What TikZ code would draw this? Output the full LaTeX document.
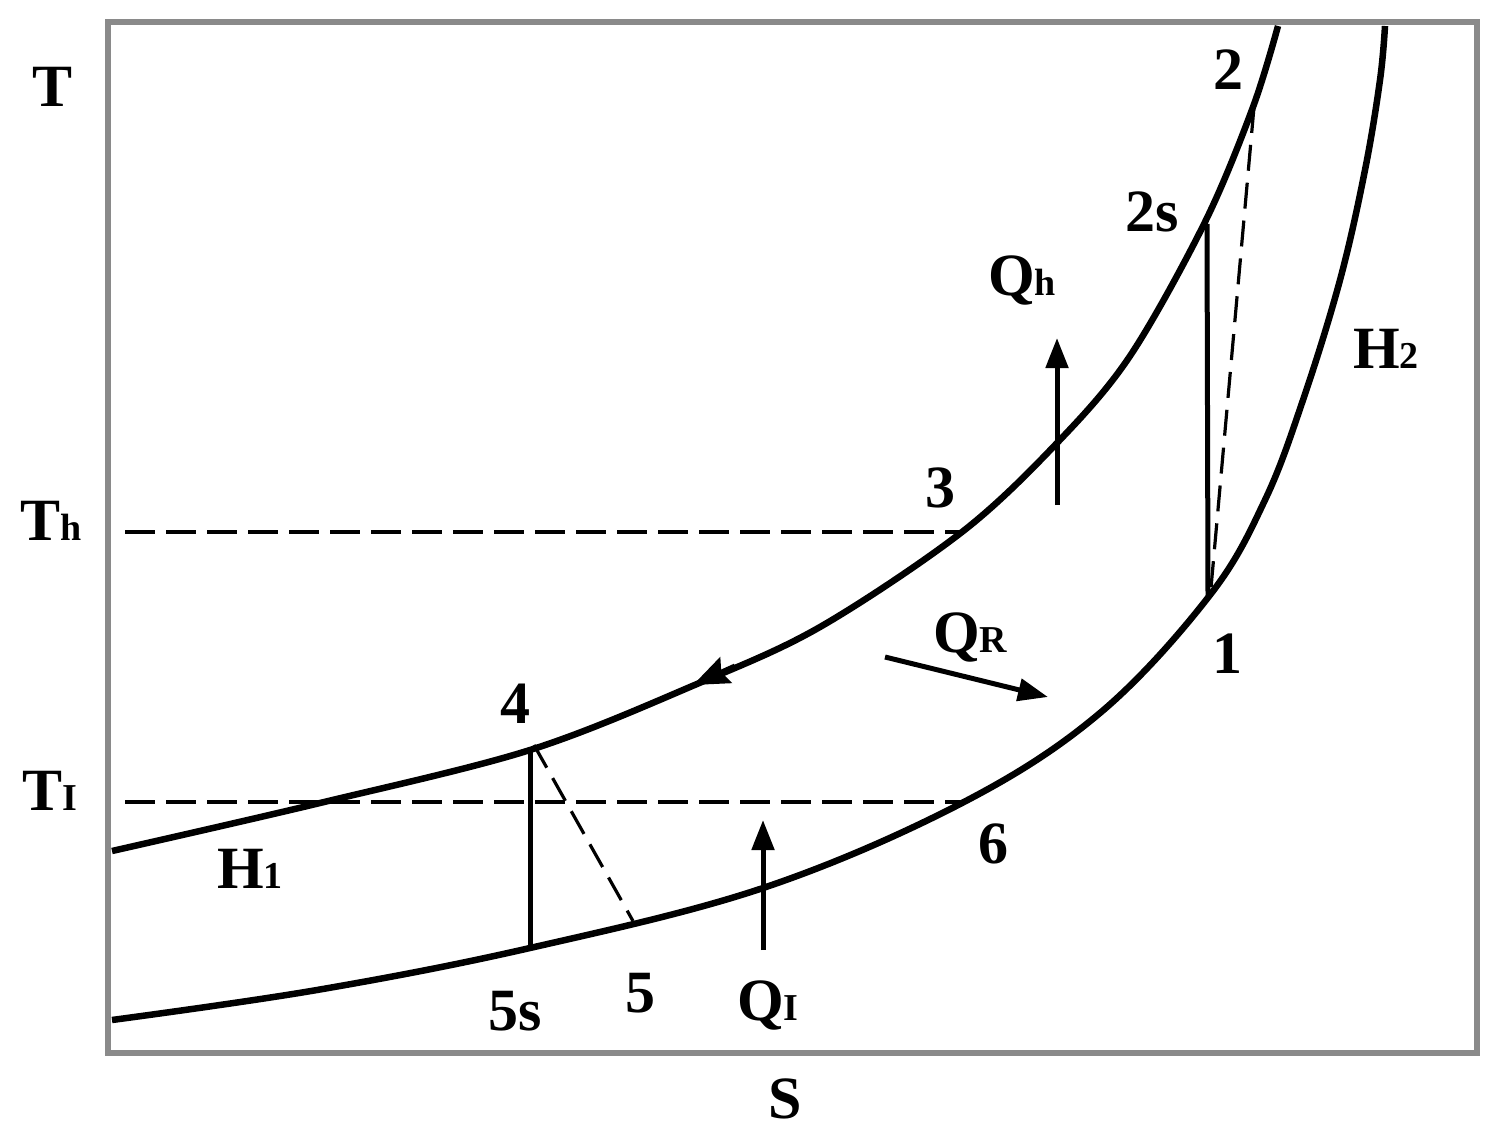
\documentclass[tikz,border=0pt]{standalone}
\usepackage{fontspec}
\setmainfont{Liberation Serif}
\usetikzlibrary{arrows.meta}
\definecolor{framegray}{RGB}{138,138,138}
\newcommand\sbx[1]{{\fontsize{38}{38}\selectfont #1}}
\begin{document}
\begin{tikzpicture}[x=1pt,y=-1pt,
  lbl/.style={font=\fontsize{60}{60}\selectfont\bfseries, inner sep=0pt, anchor=base west},
  curve/.style={line width=6.5pt, line join=round},
  isen/.style={line width=5pt},
  dashh/.style={line width=4pt, dash pattern=on 30pt off 11pt},
  dashd/.style={line width=3.2pt, dash pattern=on 26pt off 12pt},
  qarrow/.style={line width=5pt, -{Triangle[length=30pt,width=22pt]}},
  frm/.style={draw=framegray, line width=6pt}
]
\useasboundingbox (0,0) rectangle (1497,1142);
% frame
\draw[frm] (108,22) rectangle (1477,1053);
% state points
\coordinate (p1) at (1208,596);
\coordinate (p2) at (1254,107);
\coordinate (p2s) at (1207,224);
\coordinate (p3) at (962,532);
\coordinate (p4) at (530,751);
\coordinate (p5s) at (530,948);
\coordinate (p5) at (633,921);
\coordinate (p6) at (962,802);
\coordinate (th0) at (125,532);
\coordinate (tl0) at (125,802);
% isobars
\draw[curve] plot[smooth, tension=0.55] coordinates {(112,851) (320,803) (530,750) (697,684) (820,627) (962,532) (1057,443) (1130,356) (1205,222) (1253,107) (1278,26)};
\draw[curve] plot[smooth, tension=0.6] coordinates {(112,1020) (317,990) (530,948) (763,888) (962,803) (1100,713) (1210,595) (1265,500) (1303,400) (1340,280) (1365,170) (1380,80) (1385,26)};
% process lines
\draw[isen] (p2s) -- (p1);
\draw[isen] (p4) -- (p5s);
\draw[dashd] (p2) -- ([xshift=2pt,yshift=-3pt]p1);
\draw[dashd] ([xshift=4pt,yshift=6pt]p4) -- (p5);
\draw[dashh] (th0) -- (p3);
\draw[dashh] (tl0) -- (p6);
% direction arrow on the upper curve
\coordinate (ca0) at (735,666);
\coordinate (ca1) at (693,685);
\draw[line width=5pt, -{Stealth[length=36pt,width=28pt,inset=5pt]}] (ca0) -- (ca1);
% heat arrows
\coordinate (qh0) at (1057,505); \coordinate (qh1) at (1057,338);
\coordinate (ql0) at (763,950);  \coordinate (ql1) at (763,820);
\coordinate (qr0) at (885,657);  \coordinate (qr1) at (1048,697);
\draw[qarrow] (qh0) -- (qh1);
\draw[qarrow] (ql0) -- (ql1);
\draw[qarrow] (qr0) -- (qr1);
% labels
\node[lbl] (lT)  at (32,107)   {T};
\node[lbl] (lTh) at (20,540)   {T\sbx{h}};
\node[lbl] (lTl) at (22,810)   {T\sbx{I}};
\node[lbl] (lS)  at (768,1118) {S};
\node[lbl] (lH1) at (217,888)  {H\sbx{1}};
\node[lbl] (lH2) at (1353,368) {H\sbx{2}};
\node[lbl] (l2)  at (1213,90)  {2};
\node[lbl] (l2s) at (1125,232) {2s};
\node[lbl] (lQh) at (988,295)  {Q\sbx{h}};
\node[lbl] (l3)  at (925,507)  {3};
\node[lbl] (lQR) at (933,652)  {Q\sbx{R}};
\node[lbl] (l1)  at (1212,673) {1};
\node[lbl] (l6)  at (978,863)  {6};
\node[lbl] (l4)  at (500,723)  {4};
\node[lbl] (l5s) at (488,1030) {5s};
\node[lbl] (l5)  at (625,1012) {5};
\node[lbl] (lQl) at (737,1020) {Q\sbx{I}};
\end{tikzpicture}
\end{document}
